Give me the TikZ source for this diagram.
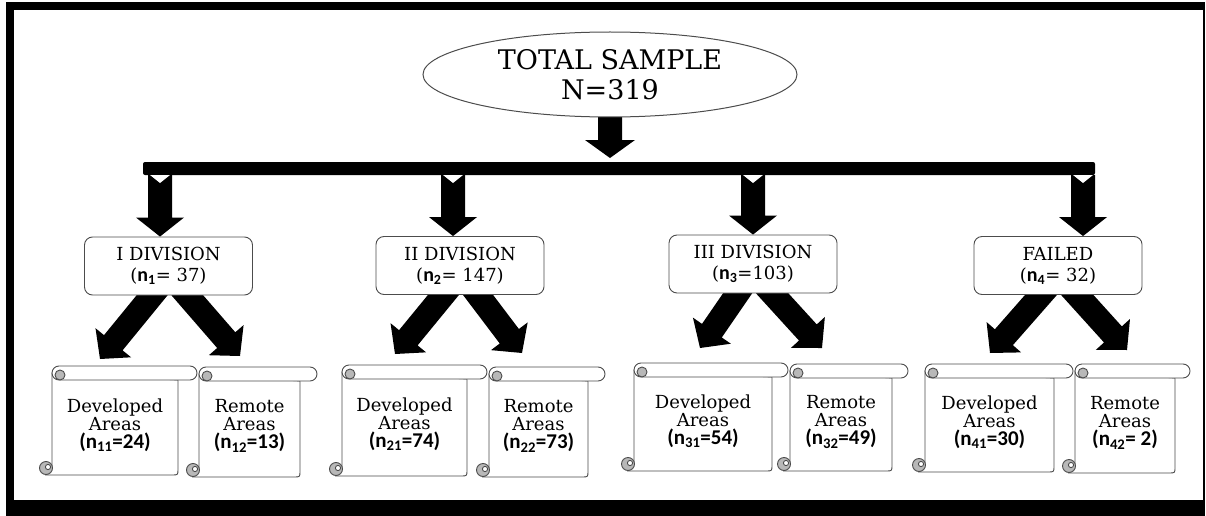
\documentclass[tikz,border=0pt]{standalone}
\usepackage{fontspec}
\setmainfont{DejaVu Serif}
\newfontfamily\carl{Carlito}
\usetikzlibrary{calc,shapes.geometric}
\pgfdeclarelayer{background}
\pgfsetlayers{background,main}
\definecolor{curlgray}{gray}{0.72}
\definecolor{edgegray}{gray}{0.3}

% fat arrow: #1 from, #2 to, #3 shaft half width, #4 head half width, #5 head length
\newcommand\fatarrow[5]{%
  \coordinate (fah) at ($(#2)!#5!(#1)$);
  \fill ($(#1)!#3!90:(#2)$) -- ($(fah)!#3!-90:(#1)$) -- ($(fah)!#4!-90:(#1)$) -- (#2)
     -- ($(fah)!#4!90:(#1)$) -- ($(fah)!#3!90:(#1)$) -- ($(#1)!#3!-90:(#2)$) -- cycle;}

% scroll: #1 x0, #2 y0, #3 x1, #4 y1, #5 body right
\newcommand\scrollshape[5]{%
  \draw[sline, fill=white] ({#1+12},{#2+7}) -- ({#1+12},{#4-7}) -- ({#1+6},{#4})
     -- ({#5-6},{#4}) .. controls ({#5},{#4}) .. ({#5},{#4-6}) -- ({#5},{#2+14}) -- cycle;
  \draw[sline, fill=curlgray] ({#1+6},{#4-7}) circle[radius=6.5pt];
  \draw[sline, fill=white] ({#1+8},{#4-8}) circle[radius=2.6pt];
  \draw[sline, fill=white, rounded corners=7pt] ({#1+12},{#2}) rectangle ({#3},{#2+14});
  \draw[sline, fill=curlgray] ({#1+20},{#2+9}) circle[radius=5pt];
}

\tikzset{
  sline/.style={draw=edgegray, line width=0.9pt},
  divbox/.style={draw=edgegray, line width=0.9pt, fill=white, rounded corners=8pt,
    minimum width=168pt, minimum height=58pt, align=center, inner sep=0pt,
    font=\fontsize{18}{21}\selectfont},
  stext/.style={align=center, inner sep=0pt, font=\fontsize{18}{18}\selectfont},
}
\newcommand\nlab[2]{{\fontsize{21}{18}\selectfont\carl\bfseries (n\textsubscript{#1}=#2)}}
\newcommand\dlab[1]{{\fontsize{20}{20}\selectfont\carl\bfseries n\textsubscript{#1}}}

\begin{document}
\begin{tikzpicture}[x=1pt,y=-1pt]
\useasboundingbox (0,0) rectangle (1206,516);
% frame
\fill (6,2) rectangle (1205,10);
\fill (6,2) rectangle (14,516);
\fill (6,500) rectangle (1205,516);
\fill (1203,2) rectangle (1205,516);

% top ellipse
\node[draw=edgegray, line width=1pt, ellipse, fill=white, minimum width=374pt,
  minimum height=85pt, inner sep=0pt, align=center,
  font=\fontsize{27}{30}\selectfont] (e) at (610,74.5) {TOTAL SAMPLE\\N=319};

% bar
\fill[rounded corners=2pt] (143,162) rectangle (1095,175);

% division boxes
\node[divbox] (d1) at (168.5,266) {I DIVISION\\(\dlab{1}= 37)};
\node[divbox] (d2) at (460,265.5) {II DIVISION\\(\dlab{2}= 147)};
\node[divbox] (d3) at (753,264) {III DIVISION\\(\dlab{3}=103)};
\node[divbox] (d4) at (1058,265.5) {FAILED\\(\dlab{4}= 32)};

% scrolls
\scrollshape{40}{366}{197}{475}{178}
\node[stext] (s11) at (115,425) {Developed\\Areas\\\nlab{11}{24}};
\scrollshape{187}{367}{317}{477}{300}
\node[stext] (s12) at (249.5,426) {Remote\\Areas\\\nlab{12}{13}};
\scrollshape{330}{365}{487}{476}{467}
\node[stext] (s21) at (404.5,424) {Developed\\Areas\\\nlab{21}{74}};
\scrollshape{477}{367}{605}{477}{588}
\node[stext] (s22) at (538.5,426) {Remote\\Areas\\\nlab{22}{73}};
\scrollshape{622}{363}{788}{471}{772}
\node[stext] (s31) at (703,421) {Developed\\Areas\\\nlab{31}{54}};
\scrollshape{778}{364}{908}{471}{892}
\node[stext] (s32) at (841,422) {Remote\\Areas\\\nlab{32}{49}};
\scrollshape{913}{364}{1073}{472}{1054}
\node[stext] (s41) at (989.5,422) {Developed\\Areas\\\nlab{41}{30}};
\scrollshape{1063}{364}{1190}{473}{1175}
\node[stext] (s42) at (1125,423) {Remote\\Areas\\\nlab{42}{\ 2}};

% coordinates for connectors
\coordinate (e0) at ($(e.south)+(0,-6)$);
\coordinate (et) at (610,158);
\coordinate (b1) at (160,175);
\coordinate (b2) at (453,175);
\coordinate (b3) at (753,175);
\coordinate (b4) at (1083,175);
\coordinate (v1) at (b1 |- d1.north);
\coordinate (v2) at (b2 |- d2.north);
\coordinate (v3) at (b3 |- d3.north);
\coordinate (v4) at (b4 |- d4.north);
\coordinate (d1l) at ($(d1.south)+(-10,-8)$);
\coordinate (d1r) at ($(d1.south)+(12,-8)$);
\coordinate (d2l) at ($(d2.south)+(-10,-8)$);
\coordinate (d2r) at ($(d2.south)+(12,-8)$);
\coordinate (d3l) at ($(d3.south)+(-10,-8)$);
\coordinate (d3r) at ($(d3.south)+(12,-8)$);
\coordinate (d4l) at ($(d4.south)+(-10,-8)$);
\coordinate (d4r) at ($(d4.south)+(12,-8)$);
\coordinate (t11) at (100,359);
\coordinate (t12) at (240,356);
\coordinate (t21) at (395,354);
\coordinate (t22) at (522,353);
\coordinate (t31) at (700,348);
\coordinate (t32) at (822,348);
\coordinate (t41) at (990,353);
\coordinate (t42) at (1127,350);

\begin{pgfonlayer}{background}
\fatarrow{e0}{et}{12pt}{25pt}{18pt}
\fatarrow{d1l}{t11}{12pt}{23pt}{21pt}
\fatarrow{d1r}{t12}{12pt}{23pt}{21pt}
\fatarrow{d2l}{t21}{12pt}{23pt}{21pt}
\fatarrow{d2r}{t22}{12pt}{23pt}{21pt}
\fatarrow{d3l}{t31}{12pt}{23pt}{21pt}
\fatarrow{d3r}{t32}{12pt}{23pt}{21pt}
\fatarrow{d4l}{t41}{12pt}{23pt}{21pt}
\fatarrow{d4r}{t42}{12pt}{23pt}{21pt}
\end{pgfonlayer}

% vertical arrows from the bar
\fatarrow{b1}{v1}{12pt}{24pt}{19pt}
\fatarrow{b2}{v2}{12pt}{24pt}{19pt}
\fatarrow{b3}{v3}{12pt}{24pt}{19pt}
\fatarrow{b4}{v4}{12pt}{24pt}{19pt}
\foreach \b in {b1,b2,b3,b4}
  \fill[white] ($(\b)+(-10,0)$) -- ($(\b)+(10,0)$) -- ($(\b)+(0,8)$) -- cycle;
\end{tikzpicture}
\end{document}
